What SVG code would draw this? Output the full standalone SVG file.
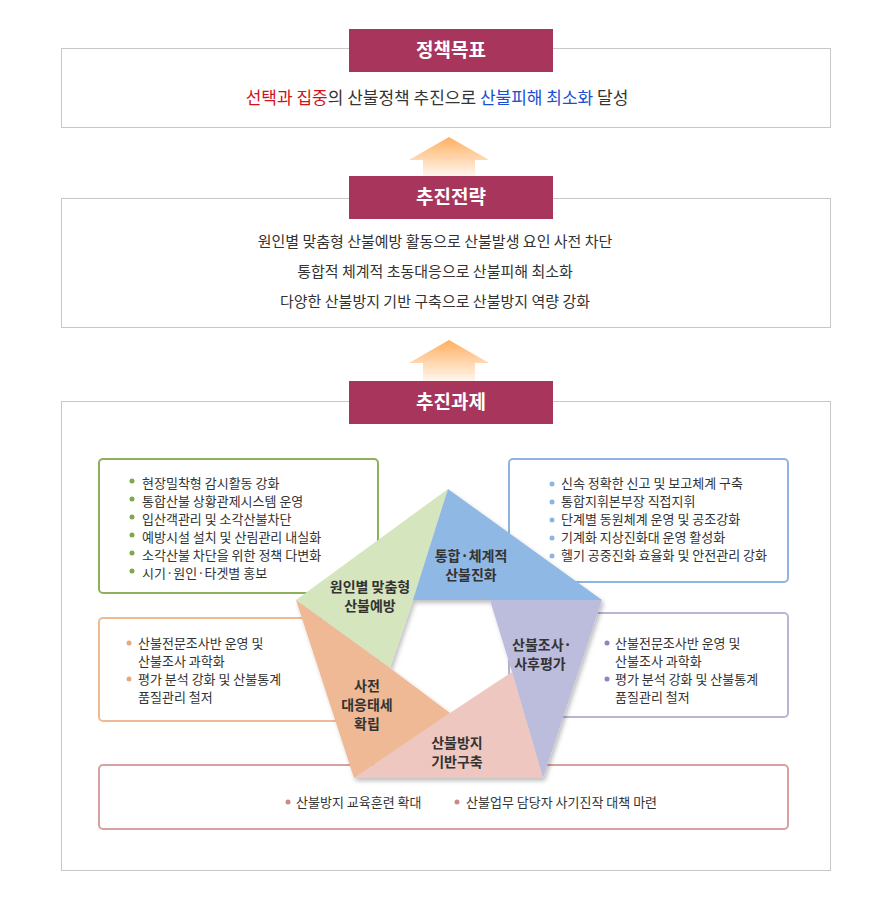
<svg xmlns="http://www.w3.org/2000/svg" width="890" height="906" viewBox="0 0 890 906">
<style>
text{font-family:"Noto Sans CJK KR","Noto Sans",sans-serif;}
.frame{fill:#fff;stroke:#c8c8c8;stroke-width:1}
.tab{fill:#a8365c}
.tt{fill:#fff;font-size:19px;font-weight:bold;text-anchor:middle}
.body{fill:#333;font-size:15px;text-anchor:middle}
.li{fill:#333;font-size:13px}
.pl{fill:#333;font-size:14px;font-weight:bold;text-anchor:middle}
</style>
<defs>
<linearGradient id="ag" x1="0" y1="0" x2="0" y2="1">
<stop offset="0" stop-color="#ffb060"/><stop offset="1" stop-color="#fff6ee"/>
</linearGradient>
<filter id="sh" x="-10%" y="-10%" width="130%" height="130%"><feDropShadow dx="2" dy="3" stdDeviation="2" flood-color="#000" flood-opacity="0.25"/></filter>
</defs>
<g id="goal">
<rect class="frame" x="61.5" y="48.5" width="769" height="79"/>
<rect class="tab" x="349" y="29" width="204" height="43"/>
<text class="tt" x="451" y="57">정책목표</text>
<text class="body" x="437" y="104" style="font-size:17px"><tspan fill="#d0121b">선택과 집중</tspan>의 산불정책 추진으로 <tspan fill="#1a4fd0">산불피해 최소화</tspan> 달성</text>
</g>
<g id="arrows">
<polygon points="449,137 489,160 475,160 475,176 423,176 423,160 409,160" fill="url(#ag)"/>
<polygon points="449,340 489,363 475,363 475,381 423,381 423,363 409,363" fill="url(#ag)"/>
</g>
<g id="strategy">
<rect class="frame" x="61.5" y="198.5" width="769" height="129"/>
<rect class="tab" x="349" y="176" width="204" height="43"/>
<text class="tt" x="451" y="204">추진전략</text>
<text class="body" x="435" y="247">원인별 맞춤형 산불예방 활동으로 산불발생 요인 사전 차단</text>
<text class="body" x="435" y="277">통합적 체계적 초동대응으로 산불피해 최소화</text>
<text class="body" x="435" y="307">다양한 산불방지 기반 구축으로 산불방지 역량 강화</text>
</g>
<g id="tasks">
<rect class="frame" x="61.5" y="401.5" width="769" height="469"/>
<rect class="tab" x="349" y="381" width="204" height="43"/>
<text class="tt" x="451" y="409">추진과제</text>
</g>
<g id="box-green">
<rect x="99" y="459" width="279" height="134" rx="4" fill="#fff" stroke="#8db05a" stroke-width="2"/>
<g class="li" fill="#333">
<text x="142" y="488">현장밀착형 감시활동 강화</text>
<text x="142" y="506">통합산불 상황관제시스템 운영</text>
<text x="142" y="524">입산객관리 및 소각산불차단</text>
<text x="142" y="542">예방시설 설치 및 산림관리 내실화</text>
<text x="142" y="560">소각산불 차단을 위한 정책 다변화</text>
<text x="142" y="578">시기·원인·타겟별 홍보</text>
</g>
<g fill="#7fa84a"><circle cx="132" cy="481" r="2.5"/><circle cx="132" cy="499" r="2.5"/><circle cx="132" cy="517" r="2.5"/><circle cx="132" cy="535" r="2.5"/><circle cx="132" cy="553" r="2.5"/><circle cx="132" cy="571" r="2.5"/></g>
</g>
<g id="box-blue">
<rect x="509" y="459" width="279" height="123" rx="4" fill="#fff" stroke="#8fb4e0" stroke-width="2"/>
<g class="li">
<text x="561" y="488">신속 정확한 신고 및 보고체계 구축</text>
<text x="561" y="506">통합지휘본부장 직접지휘</text>
<text x="561" y="524">단계별 동원체계 운영 및 공조강화</text>
<text x="561" y="542">기계화 지상진화대 운영 활성화</text>
<text x="561" y="560">헬기 공중진화 효율화 및 안전관리 강화</text>
</g>
<g fill="#8fb4e0"><circle cx="552" cy="484" r="2.5"/><circle cx="552" cy="502" r="2.5"/><circle cx="552" cy="520" r="2.5"/><circle cx="552" cy="538" r="2.5"/><circle cx="552" cy="556" r="2.5"/></g>
</g>
<g id="box-orange">
<rect x="99" y="618" width="279" height="103" rx="4" fill="#fff" stroke="#efb993" stroke-width="2"/>
<g class="li">
<text x="138" y="648">산불전문조사반 운영 및</text>
<text x="138" y="666">산불조사 과학화</text>
<text x="138" y="684">평가 분석 강화 및 산불통계</text>
<text x="138" y="702">품질관리 철저</text>
</g>
<g fill="#e8a878"><circle cx="129" cy="643" r="2.5"/><circle cx="129" cy="679" r="2.5"/></g>
</g>
<g id="box-purple">
<rect x="509" y="613" width="279" height="104" rx="4" fill="#fff" stroke="#b9b5d6" stroke-width="2"/>
<g class="li">
<text x="615" y="648">산불전문조사반 운영 및</text>
<text x="615" y="666">산불조사 과학화</text>
<text x="615" y="684">평가 분석 강화 및 산불통계</text>
<text x="615" y="702">품질관리 철저</text>
</g>
<g fill="#8a86c0"><circle cx="607" cy="643" r="2.5"/><circle cx="607" cy="679" r="2.5"/></g>
</g>
<g id="box-pink">
<rect x="99" y="765" width="689" height="64" rx="4" fill="#fff" stroke="#d8a09e" stroke-width="2"/>
<g class="li">
<text x="296" y="807">산불방지 교육훈련 확대</text>
<text x="466" y="807">산불업무 담당자 사기진작 대책 마련</text>
</g>
<g fill="#c98a86"><circle cx="288" cy="802" r="2.5"/><circle cx="457" cy="802" r="2.5"/></g>
</g>
<g id="pentagon" filter="url(#sh)">
<polygon points="448,489 296,600 390,668 413,600" fill="#d5e5bd"/>
<polygon points="448,489 602,600 413,600" fill="#8fb8e5"/>
<polygon points="602,600 543,778 512,672 490,600" fill="#bcbcdd"/>
<polygon points="543,778 354,778 450,713 512,672" fill="#eec8c0"/>
<polygon points="354,778 296,600 390,668 450,713" fill="#efb995"/>
</g>
<g id="pent-labels">
<text class="pl" x="370" y="592">원인별 맞춤형</text>
<text class="pl" x="370" y="611">산불예방</text>
<text class="pl" x="471" y="561">통합·체계적</text>
<text class="pl" x="471" y="580">산불진화</text>
<text class="pl" x="542" y="650">산불조사·</text>
<text class="pl" x="540" y="669">사후평가</text>
<text class="pl" x="367" y="691">사전</text>
<text class="pl" x="367" y="710">대응태세</text>
<text class="pl" x="367" y="729">확립</text>
<text class="pl" x="457" y="748">산불방지</text>
<text class="pl" x="457" y="767">기반구축</text>
</g>
</svg>
